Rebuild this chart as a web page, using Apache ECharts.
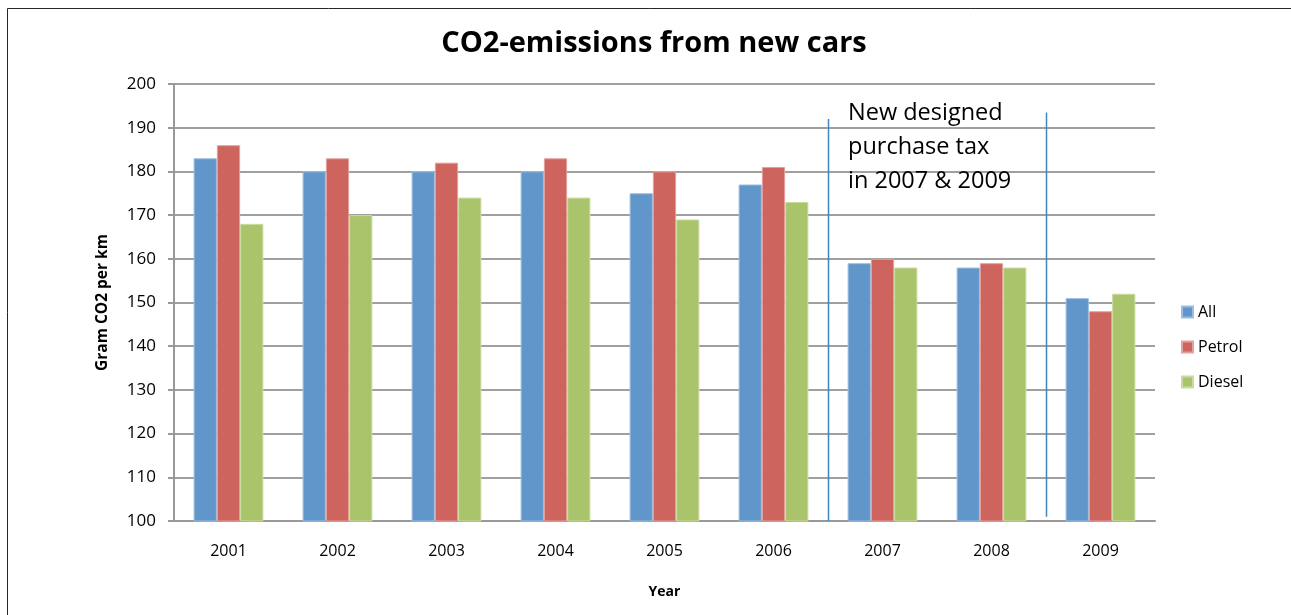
<!DOCTYPE html>
<html>
<head>
<meta charset="utf-8">
<script src="https://cdn.jsdelivr.net/npm/echarts@6/dist/echarts.min.js"></script>
<style>html,body{margin:0;padding:0;background:#fff}#c{width:1291px;height:615px}</style>
</head>
<body>
<div id="c"></div>
<script>
const years = ['2001','2002','2003','2004','2005','2006','2007','2008','2009'];
const allCars = [183, 180, 180, 180, 175, 177, 159, 158, 151];
const petrol = [186, 183, 182, 183, 180, 181, 160, 159, 148];
const diesel = [168, 170, 174, 174, 169, 173, 158, 158, 152];
const yTicks = { min: 100, max: 200, interval: 10 };
// annotation separators: [category index of left neighbour, bottom value, top value]
const separators = [[5, 100, 192], [7, 101, 193.5]];

const FONT = 'Open Sans';
const chart = echarts.init(document.getElementById('c'), null, {renderer: 'canvas'});

function bar(name, data, color, border) {
  return {
    name: name, type: 'bar', data: data, barGap: '0%', barCategoryGap: '36%',
    itemStyle: {color: color, borderColor: border, borderWidth: 1},
    emphasis: {disabled: true}
  };
}

chart.setOption({
  animation: false,
  textStyle: {fontFamily: FONT},
  title: {
    text: 'CO2-emissions from new cars', left: 649, textAlign: 'center', top: 24,
    textStyle: {fontFamily: FONT, fontWeight: 'bold', fontSize: 29, color: '#000'}
  },
  grid: {left: 174, right: 136, top: 84, bottom: 94, containLabel: false},
  legend: {
    orient: 'vertical', left: 1176, top: 298, itemWidth: 11, itemHeight: 11, itemGap: 17,
    icon: 'rect', data: ['All', 'Petrol', 'Diesel'],
    textStyle: {fontFamily: FONT, fontSize: 16, color: '#000', lineHeight: 18}
  },
  xAxis: {
    type: 'category', data: years,
    name: 'Year', nameLocation: 'middle', nameGap: 64,
    nameTextStyle: {fontFamily: FONT, fontWeight: 'bold', fontSize: 14, color: '#000'},
    axisLine: {lineStyle: {color: '#999', width: 2}},
    axisTick: {show: false},
    axisLabel: {fontFamily: FONT, fontSize: 16, color: '#000', margin: 22}
  },
  yAxis: {
    type: 'value', min: yTicks.min, max: yTicks.max, interval: yTicks.interval,
    name: 'Gram CO2 per km', nameLocation: 'middle', nameGap: 63,
    nameTextStyle: {fontFamily: FONT, fontWeight: 'bold', fontSize: 15.5, color: '#000'},
    axisLine: {show: true, lineStyle: {color: '#999', width: 2}},
    axisTick: {show: true, length: 6, lineStyle: {color: '#999', width: 2}},
    splitLine: {lineStyle: {color: '#a0a0a0', width: 2}},
    axisLabel: {fontFamily: FONT, fontSize: 17, color: '#000', margin: 18}
  },
  series: [
    bar('All', allCars, '#6096C9', '#9dbde0'),
    bar('Petrol', petrol, '#CD655E', '#e4a09c'),
    bar('Diesel', diesel, '#AAC46B', '#cadb9f')
  ]
});

function drawOverlay() {
  const p0 = chart.convertToPixel({gridIndex: 0}, [0, 100]);
  const p1 = chart.convertToPixel({gridIndex: 0}, [1, 100]);
  const half = (p1[0] - p0[0]) / 2;
  const els = [];
  separators.forEach(function (s) {
    const b = chart.convertToPixel({gridIndex: 0}, [s[0], s[1]]);
    const t = chart.convertToPixel({gridIndex: 0}, [s[0], s[2]]);
    const x = Math.round(b[0] + half) + 0.5;
    els.push({type: 'line', shape: {x1: x, y1: t[1], x2: x, y2: b[1]},
      style: {stroke: '#3f86c4', lineWidth: 1.5}, z: 10});
  });
  els.push({type: 'text', left: 848, top: 96, z: 10,
    style: {text: 'New designed\npurchase tax\nin 2007 & 2009', fontFamily: FONT, fontSize: 23.5,
      lineHeight: 34, fill: '#000'}});
  els.push({type: 'rect', shape: {x: 7.5, y: 8.5, width: 1400, height: 700},
    style: {fill: 'none', stroke: '#262626', lineWidth: 1}, z: 0, silent: true});
  chart.setOption({graphic: els});
}
drawOverlay();
</script>
</body>
</html>
